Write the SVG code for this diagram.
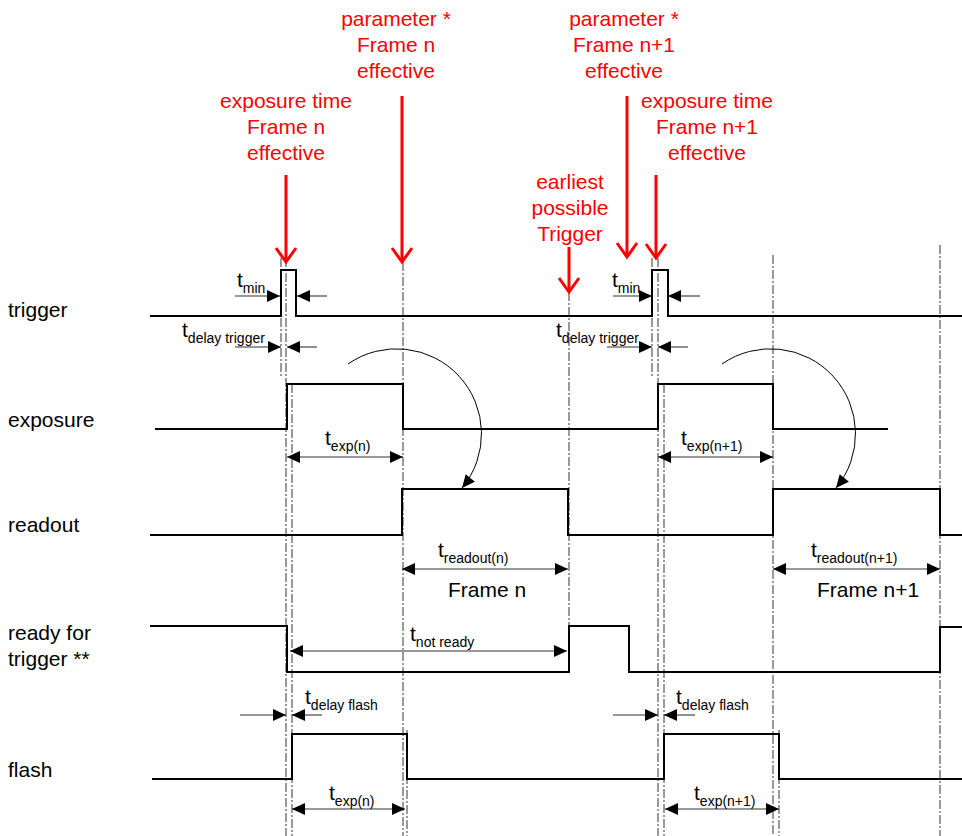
<svg xmlns="http://www.w3.org/2000/svg" width="962" height="836" viewBox="0 0 962 836">
<style>
text{font-family:"Liberation Sans",Arial,sans-serif;font-size:21px;fill:#000}
.red{fill:#ff0000;text-anchor:middle}
.sub{font-size:14px}
.sig{fill:none;stroke:#000;stroke-width:2}
.guide{fill:none;stroke:#000;stroke-width:0.8;stroke-dasharray:9,2,2,2}
.dim{fill:none;stroke:#333;stroke-width:1.1}
.one{marker-end:url(#ah)}
.two{marker-start:url(#ah);marker-end:url(#ah)}
.arc{fill:none;stroke:#000;stroke-width:1;marker-end:url(#ah)}
.rarr{fill:none;stroke:#ff0000;stroke-width:3;marker-end:url(#chev)}
</style>
<defs>
<marker id="ah" markerUnits="userSpaceOnUse" markerWidth="14" markerHeight="12" refX="13" refY="6" orient="auto-start-reverse" overflow="visible">
<path d="M0,0 L13,6 L0,12 z" fill="#000"/>
</marker>
<marker id="chev" markerUnits="userSpaceOnUse" markerWidth="20" markerHeight="24" refX="14" refY="10" orient="auto" overflow="visible">
<path d="M0,0 L14,10 L0,20" fill="none" stroke="#ff0000" stroke-width="3"/>
</marker>
</defs>
<rect width="962" height="836" fill="#fff"/>

<g id="labels">
<text x="8" y="317">trigger</text>
<text x="8" y="427">exposure</text>
<text x="8" y="532">readout</text>
<text x="8" y="640">ready for</text>
<text x="8" y="666">trigger **</text>
<text x="8" y="777">flash</text>
</g>

<g id="guides">
<line class="guide" x1="281" y1="258" x2="281" y2="378"/>
<line class="guide" x1="286" y1="258" x2="286" y2="836"/>
<line class="guide" x1="292" y1="384" x2="292" y2="836"/>
<line class="guide" x1="403" y1="262" x2="403" y2="836"/>
<line class="guide" x1="407" y1="730" x2="407" y2="836"/>
<line class="guide" x1="569" y1="292" x2="569" y2="626"/>
<line class="guide" x1="652" y1="258" x2="652" y2="378"/>
<line class="guide" x1="658" y1="258" x2="658" y2="836"/>
<line class="guide" x1="664" y1="384" x2="664" y2="836"/>
<line class="guide" x1="773" y1="255" x2="773" y2="836"/>
<line class="guide" x1="779" y1="730" x2="779" y2="836"/>
<line class="guide" x1="940" y1="245" x2="940" y2="836"/>
</g>

<g id="signal-trigger"><path class="sig" d="M150,316 H281 V270 H296 V316 H652 V270 H668 V316 H962"/></g>
<g id="signal-exposure"><path class="sig" d="M155,429 H287 V384 H403 V429 H658 V384 H773 V429 H888"/></g>
<g id="signal-readout"><path class="sig" d="M150,535 H402 V489 H568 V535 H773 V489 H940 V535 H962"/></g>
<g id="signal-ready"><path class="sig" d="M150,626 H287 V672 H569 V626 H629 V672 H940 V627 H962"/></g>
<g id="signal-flash"><path class="sig" d="M152,779 H292 V734 H407 V779 H664 V734 H779 V779 H962"/></g>

<g id="connectors">
<line class="dim one" x1="235" y1="296" x2="280" y2="296"/>
<line class="dim one" x1="327" y1="296" x2="297" y2="296"/>
<line class="dim one" x1="235" y1="347" x2="281" y2="347"/>
<line class="dim one" x1="317" y1="347" x2="287" y2="347"/>
<line class="dim one" x1="613" y1="296" x2="652" y2="296"/>
<line class="dim one" x1="700" y1="296" x2="668" y2="296"/>
<line class="dim one" x1="607" y1="347" x2="652" y2="347"/>
<line class="dim one" x1="688" y1="347" x2="658" y2="347"/>
<line class="dim two" x1="287" y1="457" x2="403" y2="457"/>
<line class="dim two" x1="658" y1="457" x2="773" y2="457"/>
<line class="dim two" x1="402" y1="569" x2="568" y2="569"/>
<line class="dim two" x1="773" y1="569" x2="940" y2="569"/>
<line class="dim two" x1="290" y1="651" x2="567" y2="651"/>
<line class="dim one" x1="240" y1="715" x2="286" y2="715"/>
<line class="dim one" x1="322" y1="715" x2="292" y2="715"/>
<line class="dim one" x1="613" y1="715" x2="658" y2="715"/>
<line class="dim one" x1="695" y1="715" x2="664" y2="715"/>
<line class="dim two" x1="292" y1="809" x2="405" y2="809"/>
<line class="dim two" x1="665" y1="809" x2="779" y2="809"/>
<path class="arc" d="M348,364 A85,85 0 0 1 462,488"/>
<path class="arc" d="M722,364 A85,85 0 0 1 836,488"/>
<line class="rarr" x1="286" y1="175" x2="286" y2="262"/>
<line class="rarr" x1="402" y1="96" x2="402" y2="262"/>
<line class="rarr" x1="569" y1="247" x2="569" y2="292"/>
<line class="rarr" x1="627" y1="96" x2="627" y2="257"/>
<line class="rarr" x1="656" y1="175" x2="656" y2="258"/>
</g>

<g id="dim-labels">
<text x="237" y="287">t<tspan class="sub" dy="6">min</tspan></text>
<text x="182" y="337">t<tspan class="sub" dy="6">delay trigger</tspan></text>
<text x="612" y="287">t<tspan class="sub" dy="6">min</tspan></text>
<text x="556" y="337">t<tspan class="sub" dy="6">delay trigger</tspan></text>
<text x="325" y="445">t<tspan class="sub" dy="6">exp(n)</tspan></text>
<text x="681" y="445">t<tspan class="sub" dy="6">exp(n+1)</tspan></text>
<text x="438" y="557">t<tspan class="sub" dy="6">readout(n)</tspan></text>
<text x="811" y="557">t<tspan class="sub" dy="6">readout(n+1)</tspan></text>
<text x="410" y="641">t<tspan class="sub" dy="6">not ready</tspan></text>
<text x="305" y="704">t<tspan class="sub" dy="6">delay flash</tspan></text>
<text x="676" y="704">t<tspan class="sub" dy="6">delay flash</tspan></text>
<text x="329" y="800">t<tspan class="sub" dy="6">exp(n)</tspan></text>
<text x="694" y="800">t<tspan class="sub" dy="6">exp(n+1)</tspan></text>
<text x="448" y="597">Frame n</text>
<text x="817" y="597">Frame n+1</text>
</g>

<g id="annotations">
<text class="red" x="286" y="108">exposure time</text>
<text class="red" x="286" y="134">Frame n</text>
<text class="red" x="286" y="160">effective</text>
<text class="red" x="396" y="26">parameter *</text>
<text class="red" x="396" y="52">Frame n</text>
<text class="red" x="396" y="78">effective</text>
<text class="red" x="570" y="189">earliest</text>
<text class="red" x="570" y="215">possible</text>
<text class="red" x="570" y="241">Trigger</text>
<text class="red" x="624" y="26">parameter *</text>
<text class="red" x="624" y="52">Frame n+1</text>
<text class="red" x="624" y="78">effective</text>
<text class="red" x="707" y="108">exposure time</text>
<text class="red" x="707" y="134">Frame n+1</text>
<text class="red" x="707" y="160">effective</text>
</g>
</svg>
